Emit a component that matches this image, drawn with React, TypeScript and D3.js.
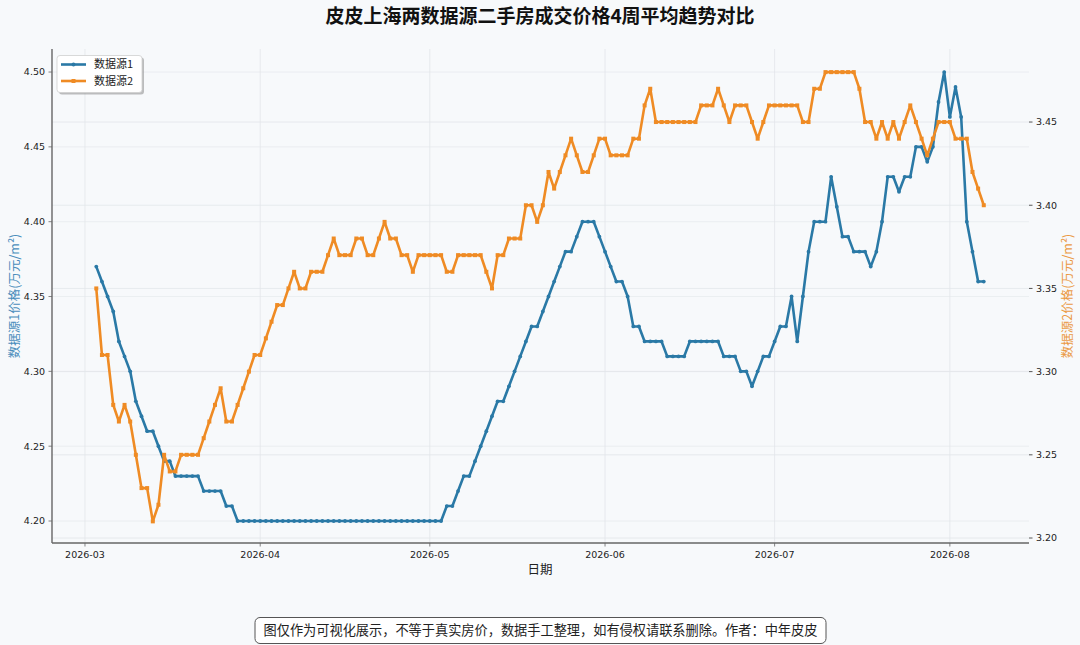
import React from "react";
import * as d3 from "d3";

const TITLE = "皮皮上海两数据源二手房成交价格4周平均趋势对比";
const FOOTNOTE = "图仅作为可视化展示，不等于真实房价，数据手工整理，如有侵权请联系删除。作者：中年皮皮";
const SERIES_NAMES = ["数据源1", "数据源2"];
const START_DATE = new Date(2026, 2, 3);
const END_DATE_EXCL = new Date(2026, 7, 8);

// 数据源1 (left axis)
const source1Mar = [4.37, 4.36, 4.35, 4.34, 4.32, 4.31, 4.30, 4.28, 4.27, 4.26, 4.26, 4.25, 4.24, 4.24, 4.23, 4.23, 4.23, 4.23, 4.23, 4.22, 4.22, 4.22, 4.22, 4.21, 4.21, 4.20, 4.20, 4.20, 4.20];
const source1Apr = [4.20, 4.20, 4.20, 4.20, 4.20, 4.20, 4.20, 4.20, 4.20, 4.20, 4.20, 4.20, 4.20, 4.20, 4.20, 4.20, 4.20, 4.20, 4.20, 4.20, 4.20, 4.20, 4.20, 4.20, 4.20, 4.20, 4.20, 4.20, 4.20, 4.20];
const source1May = [4.20, 4.20, 4.20, 4.21, 4.21, 4.22, 4.23, 4.23, 4.24, 4.25, 4.26, 4.27, 4.28, 4.28, 4.29, 4.30, 4.31, 4.32, 4.33, 4.33, 4.34, 4.35, 4.36, 4.37, 4.38, 4.38, 4.39, 4.40, 4.40, 4.40, 4.39];
const source1Jun = [4.38, 4.37, 4.36, 4.36, 4.35, 4.33, 4.33, 4.32, 4.32, 4.32, 4.32, 4.31, 4.31, 4.31, 4.31, 4.32, 4.32, 4.32, 4.32, 4.32, 4.32, 4.31, 4.31, 4.31, 4.30, 4.30, 4.29, 4.30, 4.31, 4.31];
const source1Jul = [4.32, 4.33, 4.33, 4.35, 4.32, 4.35, 4.38, 4.40, 4.40, 4.40, 4.43, 4.41, 4.39, 4.39, 4.38, 4.38, 4.38, 4.37, 4.38, 4.40, 4.43, 4.43, 4.42, 4.43, 4.43, 4.45, 4.45, 4.44, 4.45, 4.48, 4.50];
const source1Aug = [4.47, 4.49, 4.47, 4.40, 4.38, 4.36, 4.36];

// 数据源2 (right axis)
const source2Mar = [3.35, 3.31, 3.31, 3.28, 3.27, 3.28, 3.27, 3.25, 3.23, 3.23, 3.21, 3.22, 3.25, 3.24, 3.24, 3.25, 3.25, 3.25, 3.25, 3.26, 3.27, 3.28, 3.29, 3.27, 3.27, 3.28, 3.29, 3.30, 3.31];
const source2Apr = [3.31, 3.32, 3.33, 3.34, 3.34, 3.35, 3.36, 3.35, 3.35, 3.36, 3.36, 3.36, 3.37, 3.38, 3.37, 3.37, 3.37, 3.38, 3.38, 3.37, 3.37, 3.38, 3.39, 3.38, 3.38, 3.37, 3.37, 3.36, 3.37, 3.37];
const source2May = [3.37, 3.37, 3.37, 3.36, 3.36, 3.37, 3.37, 3.37, 3.37, 3.37, 3.36, 3.35, 3.37, 3.37, 3.38, 3.38, 3.38, 3.40, 3.40, 3.39, 3.40, 3.42, 3.41, 3.42, 3.43, 3.44, 3.43, 3.42, 3.42, 3.43, 3.44];
const source2Jun = [3.44, 3.43, 3.43, 3.43, 3.43, 3.44, 3.44, 3.46, 3.47, 3.45, 3.45, 3.45, 3.45, 3.45, 3.45, 3.45, 3.45, 3.46, 3.46, 3.46, 3.47, 3.46, 3.45, 3.46, 3.46, 3.46, 3.45, 3.44, 3.45, 3.46];
const source2Jul = [3.46, 3.46, 3.46, 3.46, 3.46, 3.45, 3.45, 3.47, 3.47, 3.48, 3.48, 3.48, 3.48, 3.48, 3.48, 3.47, 3.45, 3.45, 3.44, 3.45, 3.44, 3.45, 3.44, 3.45, 3.46, 3.45, 3.44, 3.43, 3.44, 3.45, 3.45];
const source2Aug = [3.45, 3.44, 3.44, 3.44, 3.42, 3.41, 3.40];

const leftTicks = [4.2, 4.25, 4.3, 4.35, 4.4, 4.45, 4.5];
const rightTicks = [3.2, 3.25, 3.3, 3.35, 3.4, 3.45];
const monthTicks = [new Date(2026, 2, 1), new Date(2026, 3, 1), new Date(2026, 4, 1), new Date(2026, 5, 1), new Date(2026, 6, 1), new Date(2026, 7, 1)];

const W = 1080;
const H = 645;
const M = { left: 52, right: 1029, top: 49, bottom: 543 };
const BLUE = "#2a79a6";
const ORANGE = "#ef8b24";
const BG = "#f7f9fb";
const GRID = "#e2e6ea";
const FONT = "'DejaVu Sans', 'Noto Sans CJK SC', sans-serif";
const CJK = "'Noto Sans CJK SC', 'DejaVu Sans', sans-serif";

export default function App() {
  const dates = d3.timeDay.range(START_DATE, END_DATE_EXCL);
  const v1 = [...source1Mar, ...source1Apr, ...source1May, ...source1Jun, ...source1Jul, ...source1Aug];
  const v2 = [...source2Mar, ...source2Apr, ...source2May, ...source2Jun, ...source2Jul, ...source2Aug];
  const d1 = dates.map((d, i) => ({ d, v: v1[i] })).filter((p) => p.v !== undefined);
  const d2 = dates.map((d, i) => ({ d, v: v2[i] })).filter((p) => p.v !== undefined);

  const x = d3.scaleTime().domain([new Date(2026, 1, 23, 4), new Date(2026, 7, 15)]).range([M.left, M.right]);
  const yL = d3.scaleLinear().domain([4.1853, 4.5154]).range([M.bottom, M.top]);
  const yR = d3.scaleLinear().domain([3.197, 3.4939]).range([M.bottom, M.top]);
  const fmtMonth = d3.timeFormat("%Y-%m");

  const line1 = d3.line<{ d: Date; v: number }>().x((p) => x(p.d)).y((p) => yL(p.v));
  const line2 = d3.line<{ d: Date; v: number }>().x((p) => x(p.d)).y((p) => yR(p.v));

  return (
    <svg width={W} height={H} style={{ position: "absolute", left: 0, top: 0, display: "block" }} fontFamily={FONT}>
      <rect x={0} y={0} width={W} height={H} fill={BG} />
      {/* grid */}
      {monthTicks.map((t, i) => (
        <line key={"gx" + i} x1={x(t)} x2={x(t)} y1={M.top} y2={M.bottom} stroke={GRID} strokeWidth={0.8} />
      ))}
      {leftTicks.map((t, i) => (
        <line key={"gl" + i} x1={M.left} x2={M.right} y1={yL(t)} y2={yL(t)} stroke={GRID} strokeWidth={0.8} opacity={0.7} />
      ))}
      {rightTicks.map((t, i) => (
        <line key={"gr" + i} x1={M.left} x2={M.right} y1={yR(t)} y2={yR(t)} stroke={GRID} strokeWidth={0.8} />
      ))}

      {/* series 1 */}
      <path d={line1(d1) || ""} fill="none" stroke={BLUE} strokeWidth={2.6} strokeLinejoin="round" />
      {d1.map((p, i) => (
        <circle key={"m1" + i} cx={x(p.d)} cy={yL(p.v)} r={1.9} fill={BLUE} />
      ))}
      {/* series 2 */}
      <path d={line2(d2) || ""} fill="none" stroke={ORANGE} strokeWidth={2.6} strokeLinejoin="round" />
      {d2.map((p, i) => (
        <rect key={"m2" + i} x={x(p.d) - 2} y={yR(p.v) - 2} width={4} height={4} fill={ORANGE} />
      ))}

      {/* spines */}
      <line x1={M.left} x2={M.left} y1={M.top} y2={M.bottom} stroke="#666" strokeWidth={1.4} />
      <line x1={M.left} x2={M.right} y1={M.bottom} y2={M.bottom} stroke="#666" strokeWidth={1.4} />

      {/* left axis */}
      {leftTicks.map((t, i) => (
        <g key={"lt" + i}>
          <line x1={M.left - 3.5} x2={M.left} y1={yL(t)} y2={yL(t)} stroke="#666" strokeWidth={0.8} />
          <text x={M.left - 7} y={yL(t)} dy="0.35em" textAnchor="end" fontSize={9.5} fill="#222">
            {t.toFixed(2)}
          </text>
        </g>
      ))}
      {/* right axis */}
      {rightTicks.map((t, i) => (
        <g key={"rt" + i}>
          <line x1={M.right} x2={M.right + 3.5} y1={yR(t)} y2={yR(t)} stroke="#444" strokeWidth={0.9} />
          <text x={M.right + 7} y={yR(t)} dy="0.35em" textAnchor="start" fontSize={9.5} fill="#222">
            {t.toFixed(2)}
          </text>
        </g>
      ))}
      {/* x axis */}
      {monthTicks.map((t, i) => (
        <g key={"xt" + i}>
          <line x1={x(t)} x2={x(t)} y1={M.bottom} y2={M.bottom + 3.5} stroke="#666" strokeWidth={0.8} />
          <text x={x(t)} y={M.bottom + 15} textAnchor="middle" fontSize={9.5} fill="#222">
            {fmtMonth(t)}
          </text>
        </g>
      ))}

      {/* axis labels */}
      <text x={540} y={574} textAnchor="middle" fontSize={12.5} fill="#222" fontFamily={CJK}>日期</text>
      <text transform={`translate(19,296) rotate(-90)`} textAnchor="middle" fontSize={12.5} fill="#4a8dbb" fontFamily={CJK}>
        数据源1价格(万元/m²)
      </text>
      <text transform={`translate(1072,296) rotate(-90)`} textAnchor="middle" fontSize={12.5} fill="#eb9a45" fontFamily={CJK}>
        数据源2价格(万元/m²)
      </text>

      {/* title */}
      <text x={540} y={23} textAnchor="middle" fontSize={19} fontWeight="bold" fill="#111" fontFamily={CJK}>
        {TITLE}
      </text>

      {/* legend */}
      <g>
        <rect x={59} y={57.5} width={85} height={37} rx={3} fill="#8a8a8a" opacity={0.55} />
        <rect x={57} y={55.5} width={85} height={37} rx={3} fill="#ffffff" stroke="#cfcfcf" strokeWidth={0.8} />
        <line x1={61} x2={86} y1={64.5} y2={64.5} stroke={BLUE} strokeWidth={2.6} />
        <circle cx={73.5} cy={64.5} r={2} fill={BLUE} />
        <text x={94} y={64.5} dy="0.36em" fontSize={11} fill="#222" fontFamily={CJK}>{SERIES_NAMES[0]}</text>
        <line x1={61} x2={86} y1={81} y2={81} stroke={ORANGE} strokeWidth={2.6} />
        <rect x={71.5} y={79} width={4} height={4} fill={ORANGE} />
        <text x={94} y={81} dy="0.36em" fontSize={11} fill="#222" fontFamily={CJK}>{SERIES_NAMES[1]}</text>
      </g>

      {/* footnote */}
      <rect x={255} y={617.5} width={571} height={26} rx={5} fill="#ffffff" stroke="#555" strokeWidth={1} />
      <text x={540.5} y={630.5} dy="0.36em" textAnchor="middle" fontSize={13.2} fill="#222" fontFamily={CJK}>
        {FOOTNOTE}
      </text>
    </svg>
  );
}
